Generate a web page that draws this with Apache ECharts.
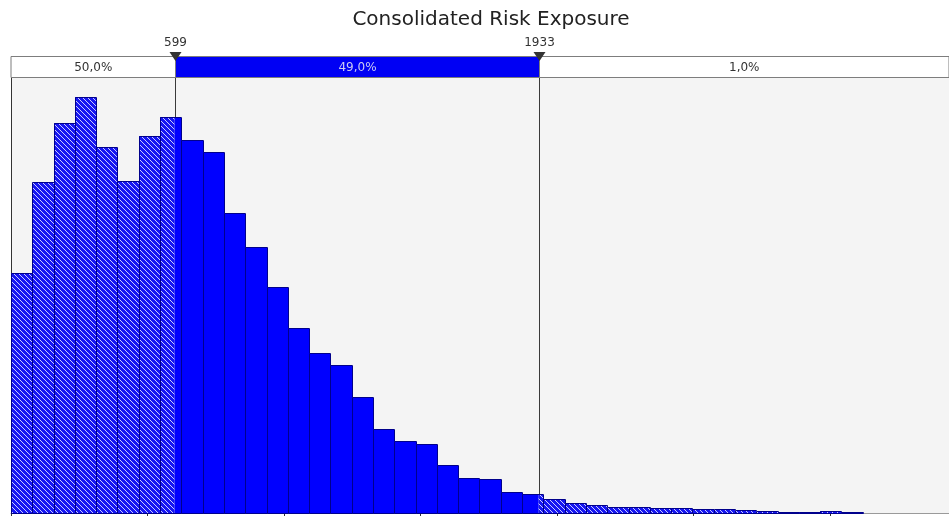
<!DOCTYPE html>
<html><head><meta charset="utf-8">
<script src="https://cdn.jsdelivr.net/npm/echarts@6/dist/echarts.min.js"></script>
<style>html,body{margin:0;padding:0;background:#fff}#c{width:949px;height:516px}</style>
</head><body><div id="c"></div>
<script>
// ---- data ----
const chartTitle = 'Consolidated Risk Exposure';
const binStart = 0;
const binWidth = 78;
const counts = [445,614,723,772,679,616,699,735,692,670,557,493,419,343,297,275,215,156,134,128,89,65,63,39,35,26,19,15,11,11,9,9,7,7,6,4,2,2,4,2];
const markers = [599, 1933];
const markerLabels = ['599', '1933'];
const bandLabels = ['50,0%', '49,0%', '1,0%'];
const xMin = 0, xMax = 3436, yMax = 807;
const tickStep = 500;

// ---- build ----
const bins = counts.map((c, i) => [binStart + i * binWidth, binStart + (i + 1) * binWidth, c]);

function makeHatch() {
  const c = document.createElement('canvas');
  c.width = 5; c.height = 5;
  const g = c.getContext('2d');
  g.fillStyle = '#1616f2';
  g.fillRect(0, 0, 5, 5);
  g.fillStyle = 'rgba(235,235,255,0.85)';
  for (let i = 0; i < 5; i++) g.fillRect(i, i, 1, 1);
  return c;
}
const hatch = { image: makeHatch(), repeat: 'repeat' };

const chart = echarts.init(document.getElementById('c'), null, { renderer: 'canvas' });
chart.setOption({
  animation: false,
  backgroundColor: '#ffffff',
  title: {
    text: chartTitle,
    left: 486, top: 5, textAlign: 'center',
    textStyle: { fontFamily: 'DejaVu Sans', fontSize: 20, fontWeight: 'normal', color: '#222' }
  },
  grid: { left: 11, right: 0, top: 78, bottom: 3, show: true, backgroundColor: '#f4f4f4', borderWidth: 0 },
  xAxis: {
    type: 'value', min: xMin, max: xMax, interval: tickStep,
    axisLabel: { show: false },
    axisLine: { show: true, lineStyle: { color: '#9a9a9a' } },
    axisTick: { show: true, length: 3, lineStyle: { color: '#333' } },
    splitLine: { show: false }
  },
  yAxis: {
    type: 'value', min: 0, max: yMax,
    axisLabel: { show: false },
    axisLine: { show: true, lineStyle: { color: '#333' } },
    axisTick: { show: false },
    splitLine: { show: false }
  },
  series: [
    {
      type: 'custom', z: 1, silent: true,
      data: [[0]],
      renderItem(params, api) {
        const gTop = api.coord([xMin, yMax])[1];
        const gBot = api.coord([xMin, 0])[1];
        const xl = api.coord([xMin, 0])[0];
        const xr = api.coord([xMax, 0])[0];
        const ms = markers.map(m => Math.round(api.coord([m, 0])[0]) + 0.5);
        const bandTop = Math.round(gTop) - 22;
        const bandH = 21;
        const edges = [xl, ...ms, xr];
        const ch = [];
        ms.forEach(x => ch.push({ type: 'line', shape: { x1: x, y1: bandTop, x2: x, y2: gBot }, style: { stroke: '#3a3a3a', lineWidth: 1 } }));
        const fills = ['#ffffff', '#0000f4', '#ffffff'];
        const tcol = ['#333333', '#c9c9f2', '#333333'];
        for (let i = 0; i < 3; i++) {
          ch.push({ type: 'rect', shape: { x: edges[i], y: bandTop + 0.5, width: edges[i + 1] - edges[i], height: bandH }, style: { fill: fills[i], stroke: '#7d7d7d', lineWidth: 1 } });
        }
        for (let i = 0; i < 3; i++) {
          ch.push({ type: 'text', style: { text: bandLabels[i], x: (edges[i] + edges[i + 1]) / 2, y: bandTop + bandH / 2 + 1, align: 'center', verticalAlign: 'middle', fill: tcol[i], font: '12px "DejaVu Sans"' } });
        }
        ms.forEach((x, i) => {
          ch.push({ type: 'polygon', shape: { points: [[x - 6, bandTop - 4], [x + 6, bandTop - 4], [x, bandTop + 5]] }, style: { fill: '#333' } });
          ch.push({ type: 'text', style: { text: markerLabels[i], x: x, y: bandTop - 13, align: 'center', verticalAlign: 'middle', fill: '#333', font: '12px "DejaVu Sans"' } });
        });
        return { type: 'group', children: ch };
      }
    },
    {
      type: 'custom', z: 2, silent: true,
      data: bins,
      renderItem(params, api) {
        const x0 = api.value(0), x1 = api.value(1), v = api.value(2);
        const p0 = api.coord([x0, v]), p1 = api.coord([x1, 0]);
        const m0 = api.coord([markers[0], 0])[0], m1 = api.coord([markers[1], 0])[0];
        const L = Math.round(p0[0]), R = Math.round(p1[0]), T = Math.round(p0[1]), B = Math.round(p1[1]);
        const ch = [];
        const seg = (a, b, fill) => { if (b > a) ch.push({ type: 'rect', shape: { x: a, y: T, width: b - a, height: B - T }, style: { fill: fill } }); };
        seg(L, Math.min(R, m0), hatch);
        seg(Math.max(L, m0), Math.min(R, m1), '#0000ff');
        seg(Math.max(L, m1), R, hatch);
        ch.push({ type: 'rect', shape: { x: L + 0.5, y: T + 0.5, width: R - L, height: B - T }, style: { fill: null, stroke: '#00008c', lineWidth: 1 } });
        return { type: 'group', children: ch };
      }
    }
  ]
});
</script>
</body></html>
